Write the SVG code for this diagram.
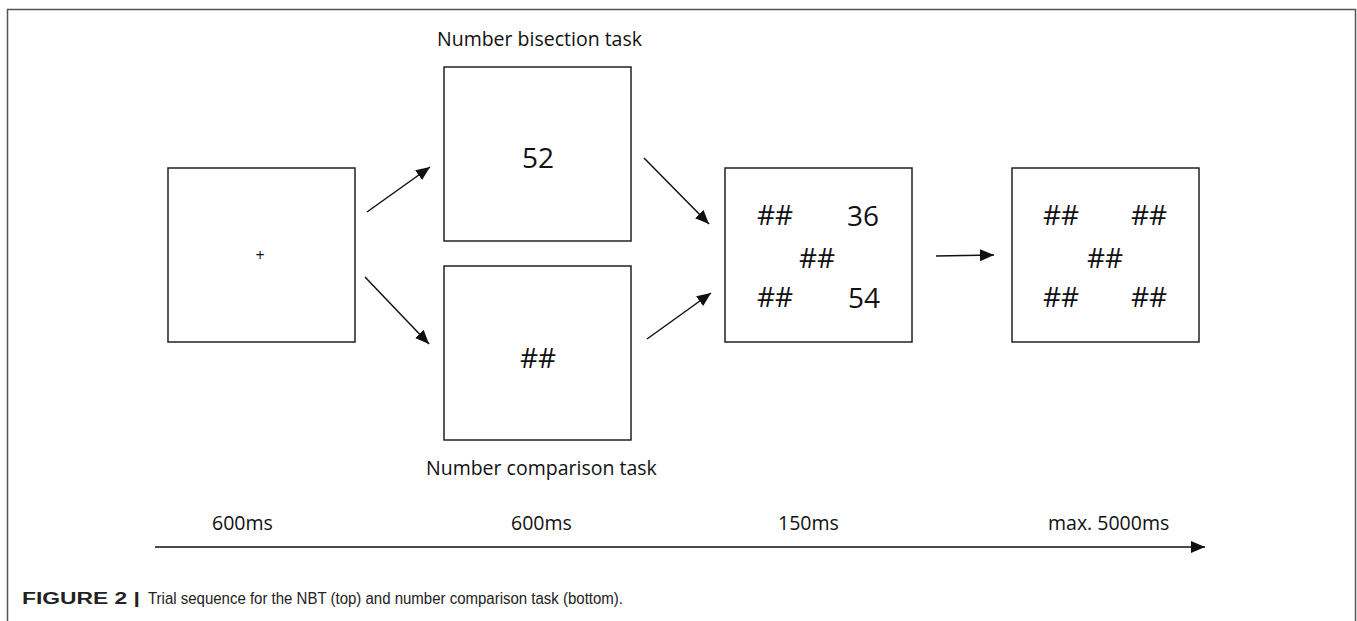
<svg xmlns="http://www.w3.org/2000/svg" width="1357" height="621" viewBox="0 0 1357 621">
<style>
.box{fill:#fff;stroke:#222;stroke-width:1.5}
.arr{stroke:#111;stroke-width:1.5;fill:none;marker-end:url(#ah)}
.t{font-family:"Open Sans","DejaVu Sans",sans-serif;fill:#111}
.big{font-size:28px;text-anchor:middle}
.lbl{font-size:19.5px}
.cap{font-family:"Liberation Sans",Arial,sans-serif;font-size:16px;fill:#222}
</style>
<defs>
<marker id="ah" markerUnits="userSpaceOnUse" markerWidth="15" markerHeight="12" refX="14" refY="6" orient="auto">
<path d="M0,0 L14,6 L0,12 Z" fill="#111"/>
</marker>
</defs>
<rect width="1357" height="621" fill="#fff"/>
<path d="M7.5,621 V9.5 H1355.5 V621" fill="none" stroke="#555" stroke-width="1.5"/>

<g id="fixation">
<rect class="box" x="168" y="168" width="187" height="174"/>
<text class="t" x="260" y="261" font-size="16" text-anchor="middle">+</text>
</g>
<g id="bisection">
<text class="t lbl" x="437" y="46">Number bisection task</text>
<rect class="box" x="444" y="67" width="187" height="174"/>
<text class="t big" x="538" y="168">52</text>
</g>
<g id="comparison">
<rect class="box" x="444" y="266" width="187" height="174"/>
<text class="t big" x="538" y="368">##</text>
<text class="t lbl" x="426" y="475">Number comparison task</text>
</g>
<g id="probe">
<rect class="box" x="725" y="168" width="187" height="174"/>
<text class="t big" x="775" y="225">##</text>
<text class="t big" x="863" y="226">36</text>
<text class="t big" x="817" y="268">##</text>
<text class="t big" x="775" y="307">##</text>
<text class="t big" x="864" y="308">54</text>
</g>
<g id="mask">
<rect class="box" x="1012" y="168" width="187" height="174"/>
<text class="t big" x="1061" y="225">##</text>
<text class="t big" x="1149" y="225">##</text>
<text class="t big" x="1105" y="268">##</text>
<text class="t big" x="1061" y="307">##</text>
<text class="t big" x="1149" y="307">##</text>
</g>

<g id="connectors">
<path class="arr" d="M367,212 L430,167"/>
<path class="arr" d="M365,277 L429,344"/>
<path class="arr" d="M644,158 L709,224"/>
<path class="arr" d="M647,339 L711,293"/>
<path class="arr" d="M936,256 L994,255"/>
</g>

<g id="timeline">
<text class="t lbl" x="212" y="530">600ms</text>
<text class="t lbl" x="511" y="530">600ms</text>
<text class="t lbl" x="778" y="530">150ms</text>
<text class="t lbl" x="1048" y="530">max. 5000ms</text>
<path class="arr" d="M155,547 L1205,547"/>
</g>

<g id="caption">
<text class="cap" x="22" y="604" font-weight="bold" textLength="118" lengthAdjust="spacingAndGlyphs">FIGURE 2 |</text>
<text class="cap" x="148" y="604" textLength="475" lengthAdjust="spacingAndGlyphs">Trial sequence for the NBT (top) and number comparison task (bottom).</text>
</g>
</svg>
